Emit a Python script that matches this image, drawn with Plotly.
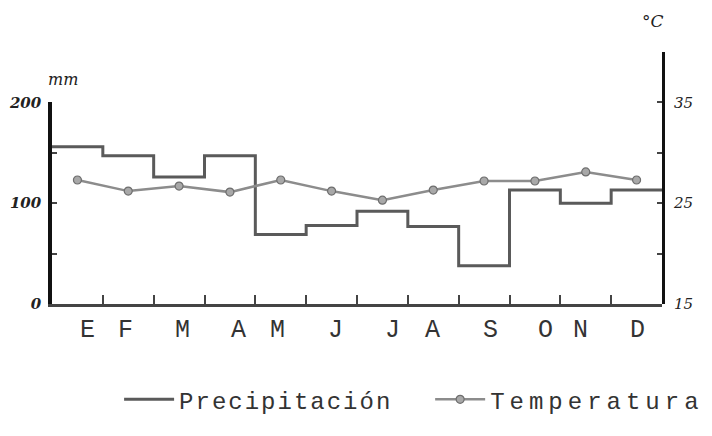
import plotly.graph_objects as go

# Data
months = ["E", "F", "M", "A", "M", "J", "J", "A", "S", "O", "N", "D"]
precip_mm = [156, 147, 126, 147, 69, 78, 92, 77, 38, 113, 100, 113]
temp_c = [27.3, 26.2, 26.7, 26.1, 27.3, 26.2, 25.3, 26.3, 27.2, 27.2, 28.1, 27.3]

# tick label positions (in month units) as typed under the axis
month_label_pos = [0.69, 1.44, 2.56, 3.66, 4.43, 5.57, 6.69, 7.48, 8.62, 9.70, 10.39, 11.51]
left_ticks = [0, 50, 100, 150, 200]
left_ticktext = ["0", "", "100", "", "200"]
right_ticks = [15, 20, 25, 30, 35, 40]
right_ticktext = ["15", "", "25", "", "35", ""]

mono = "Liberation Mono, Courier New, monospace"
hand = "DejaVu Serif, serif"

# step line: month boundaries
px = list(range(len(precip_mm) + 1))
py = precip_mm + [precip_mm[-1]]
tx = [i + 0.5 for i in range(len(temp_c))]

fig = go.Figure()
fig.add_trace(go.Scatter(
    x=px, y=py, mode="lines",
    line=dict(color="#5a5a5a", width=3, shape="hv"),
    name="<span style='letter-spacing:2px'>Precipitación&nbsp;&nbsp;</span>", xaxis="x", yaxis="y",
))
fig.add_trace(go.Scatter(
    x=tx, y=temp_c, mode="lines+markers",
    line=dict(color="#8c8c8c", width=2.5),
    marker=dict(symbol="circle", size=8, color="#a8a8a8", line=dict(color="#6e6e6e", width=1.2)),
    name="<span style='letter-spacing:5px'>Temperatura</span>", xaxis="x", yaxis="y2",
))

annotations = []
for lab, pos in zip(months, month_label_pos):
    annotations.append(dict(x=pos, y=-0.105, xref="x", yref="paper", text=lab,
                            showarrow=False, font=dict(family=mono, size=25, color="#333"),
                            xanchor="center", yanchor="middle"))
annotations.append(dict(x=0.018, y=0.89, xref="paper", yref="paper", text="mm",
                        showarrow=False, font=dict(family=hand, size=16, color="#222", style="italic"),
                        xanchor="center", yanchor="middle"))
annotations.append(dict(x=0.985, y=1.125, xref="paper", yref="paper", text="°C",
                        showarrow=False, font=dict(family=hand, size=17, color="#222", style="italic"),
                        xanchor="center", yanchor="middle"))

# page body adds an 8px offset, so the figure is sized to fit the 712x436 window
fig.update_layout(
    width=704, height=428,
    margin=dict(l=44, r=50, t=44, b=132, autoexpand=False),
    paper_bgcolor="white", plot_bgcolor="rgba(0,0,0,0)",
    showlegend=True,
    legend=dict(orientation="h", x=0.11, y=-0.38, xanchor="left", yanchor="middle",
                font=dict(family=mono, size=24, color="#333"), itemwidth=50,
                bgcolor="rgba(0,0,0,0)"),
    xaxis=dict(range=[0, 12], showgrid=False, zeroline=False, showline=True, automargin=False,
               linecolor="#444", linewidth=2.5, ticks="inside", tickvals=list(range(1, 12)),
               ticklen=9, tickwidth=2, tickcolor="#444", showticklabels=False, anchor="y"),
    yaxis=dict(domain=[0, 0.8], range=[0, 200], showgrid=False, zeroline=False, showline=True,
               automargin=False,
               linecolor="#111", linewidth=3.5, ticks="inside", tickvals=left_ticks,
               ticktext=left_ticktext, ticklen=5, tickwidth=2, tickcolor="#444",
               ticklabelstandoff=4,
               tickfont=dict(family=hand, size=15, color="#222", style="italic", weight="bold"),
               anchor="x", side="left"),
    yaxis2=dict(domain=[0, 1], range=[15, 40], showgrid=False, zeroline=False, showline=True,
                automargin=False,
                linecolor="#111", linewidth=3, ticks="inside", tickvals=right_ticks,
                ticktext=right_ticktext, ticklen=5, tickwidth=2, tickcolor="#444",
                ticklabelstandoff=6,
                tickfont=dict(family=hand, size=15, color="#222", style="italic"),
                anchor="x", side="right"),
    annotations=annotations,
)

fig.write_html("out.html")
